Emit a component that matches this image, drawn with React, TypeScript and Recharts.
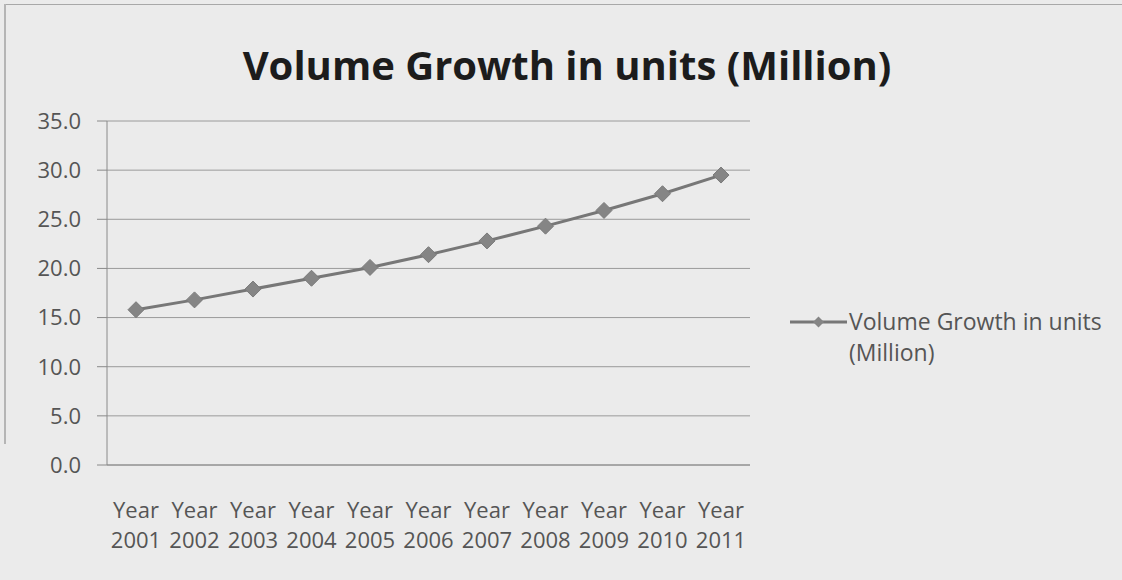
import { LineChart, Line, XAxis, YAxis, CartesianGrid } from 'recharts';

const years = ['2001', '2002', '2003', '2004', '2005', '2006', '2007', '2008', '2009', '2010', '2011'];
const volume = [15.8, 16.8, 17.9, 19.0, 20.1, 21.4, 22.8, 24.3, 25.9, 27.6, 29.5];
const yTicks = [0, 5, 10, 15, 20, 25, 30, 35];
const seriesName = 'Volume Growth in units (Million)';

const data = years.map((y, i) => ({ year: y, value: volume[i] }));

const FONT = '"Open Sans", "Liberation Sans", sans-serif';
const TEXT = '#555';

const Diamond = ({ cx, cy }: any) => {
  if (cx == null || cy == null) return null;
  const r = 8;
  return (
    <path
      d={`M${cx},${cy - r} L${cx + r},${cy} L${cx},${cy + r} L${cx - r},${cy} Z`}
      fill="#858585"
      stroke="#7a7a7a"
      strokeWidth={1}
    />
  );
};

const YearTick = ({ x, y, payload }: any) => (
  <text x={x} y={y} textAnchor="middle" fill={TEXT} fontSize={22} fontFamily={FONT}>
    <tspan x={x} dy={45}>Year</tspan>
    <tspan x={x} dy={30}>{payload.value}</tspan>
  </text>
);

export default function App() {
  return (
    <div
      style={{
        position: 'absolute',
        left: 0,
        top: 0,
        width: 1122,
        height: 580,
        background: '#ebebeb',
        overflow: 'hidden',
      }}
    >
      {/* scan frame edges */}
      <div style={{ position: 'absolute', left: 4, top: 4, width: 1118, height: 1, background: '#a8a8a8' }} />
      <div style={{ position: 'absolute', left: 4, top: 4, width: 2, height: 440, background: '#b5b5b5' }} />
      <div
        style={{
          position: 'absolute',
          left: 0,
          top: 40,
          width: '100%',
          textAlign: 'center',
          paddingLeft: 12,
          boxSizing: 'border-box',
          fontFamily: FONT,
          fontWeight: 700,
          fontSize: 40,
          lineHeight: '50px',
          color: '#1c1c1c',
        }}
      >
        {seriesName}
      </div>
      <div
        style={{
          position: 'absolute',
          left: 789,
          top: 306,
          display: 'flex',
          alignItems: 'flex-start',
          fontFamily: FONT,
          fontSize: 23,
          color: TEXT,
        }}
      >
        <svg width={60} height={32} style={{ flex: 'none' }}>
          <line x1={1} y1={16} x2={58} y2={16} stroke="#777" strokeWidth={3} />
          <path d="M29.5,10.5 L35,16 L29.5,21.5 L24,16 Z" fill="#858585" />
        </svg>
        <div style={{ lineHeight: '31px', width: 280 }}>
          Volume Growth in units
          <br />
          (Million)
        </div>
      </div>
      <LineChart
        width={1122}
        height={580}
        data={data}
        margin={{ top: 121, right: 372, bottom: 0, left: 0 }}
      >
        <CartesianGrid vertical={false} stroke="#9a9a9a" strokeWidth={1} />
        <XAxis
          dataKey="year"
          stroke="#8a8a8a"
          tickLine={false}
          interval={0}
          padding={{ left: 29, right: 29 }}
          tick={<YearTick />}
          height={115}
        />
        <YAxis
          domain={[0, 35]}
          ticks={yTicks}
          interval={0}
          width={107}
          stroke="#8a8a8a"
          tickSize={10}
          tickMargin={16}
          tickFormatter={(v: number) => v.toFixed(1)}
          tick={{ fill: TEXT, fontSize: 22, fontFamily: FONT }}
        />
        <Line
          name={seriesName}
          type="linear"
          dataKey="value"
          stroke="#777"
          strokeWidth={3}
          dot={<Diamond />}
          isAnimationActive={false}
        />
      </LineChart>
    </div>
  );
}
